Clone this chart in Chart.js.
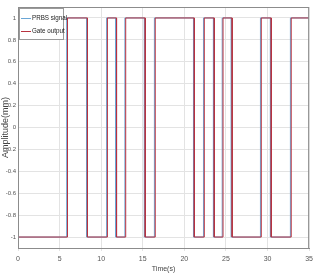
<!DOCTYPE html>
<html>
<head>
<meta charset="utf-8">
<script src="https://cdn.jsdelivr.net/npm/chart.js@4/dist/chart.umd.min.js"></script>
<style>
  html, body { margin: 0; padding: 0; background: #fff; }
  #wrap { width: 317px; height: 273px; }
</style>
</head>
<body>
<div id="wrap"><canvas id="plot" width="317" height="273"></canvas></div>
<script>
// values
const seriesNames = ['PRBS signal', 'Gate output'];
const startLevel = -1;
const endTime = 35;
const prbsSwitches = [5.85, 8.25, 10.65, 11.75, 12.85, 15.2, 16.4, 21.1, 22.3, 23.5, 24.55, 25.65, 29.15, 30.35, 32.75];
const gateSwitches = [5.95, 8.35, 10.75, 11.85, 12.95, 15.3, 16.5, 21.2, 22.4, 23.6, 24.65, 25.75, 29.25, 30.45, 32.85];
const xTicks = [0, 5, 10, 15, 20, 25, 30, 35];
const yTicks = [-1, -0.8, -0.6, -0.4, -0.2, 0, 0.2, 0.4, 0.6, 0.8, 1];

const blue = '#6aa6d6';
const red = '#b8323f';
const font = "'Liberation Sans Narrow', 'Liberation Sans', Arial, sans-serif";

// square wave points from switch times
function steps(times) {
    let lvl = startLevel;
    const pts = [{ x: 0, y: lvl }];
    times.forEach(t => {
        pts.push({ x: t, y: lvl });
        lvl = -lvl;
        pts.push({ x: t, y: lvl });
    });
    pts.push({ x: endTime, y: lvl });
    return pts;
}

// box round the plot and the legend in the top left corner
const boxPlugin = {
    id: 'box',
    afterDatasetsDraw(chart) {
        const { ctx, chartArea: a } = chart;
        ctx.save();
        ctx.strokeStyle = '#8c8c8c';
        ctx.lineWidth = 1;
        ctx.strokeRect(a.left + 0.5, a.top + 0.5, a.right - a.left - 1, a.bottom - a.top);

        const lx = a.left + 1, ly = a.top + 1;
        ctx.fillStyle = '#fff';
        ctx.fillRect(lx, ly, 44, 31);
        ctx.strokeStyle = '#9a9a9a';
        ctx.strokeRect(lx + 0.5, ly + 0.5, 44, 31);
        ctx.textBaseline = 'middle';
        chart.data.datasets.forEach((ds, i) => {
            const y = ly + 10 + i * 13;
            ctx.strokeStyle = ds.borderColor;
            ctx.beginPath();
            ctx.moveTo(lx + 2, y + 0.5);
            ctx.lineTo(lx + 12, y + 0.5);
            ctx.stroke();
            ctx.save();
            ctx.translate(lx + 13, y);
            ctx.scale(0.78, 1);
            ctx.font = '8px ' + font;
            ctx.fillStyle = '#222';
            ctx.fillText(ds.label, 0, 0);
            ctx.restore();
        });
        ctx.restore();
    }
};

new Chart(document.getElementById('plot'), {
    type: 'line',
    data: {
        datasets: [
            { label: seriesNames[0], data: steps(prbsSwitches), borderColor: blue, borderWidth: 1, pointRadius: 0, order: 1 },
            { label: seriesNames[1], data: steps(gateSwitches), borderColor: red, borderWidth: 1, pointRadius: 0, order: 0 }
        ]
    },
    options: {
        responsive: false,
        animation: false,
        layout: { padding: { top: 7, right: 1, left: 0, bottom: 0 } },
        plugins: { legend: { display: false }, tooltip: { enabled: false } },
        scales: {
            x: {
                type: 'linear',
                min: 0,
                max: endTime,
                afterBuildTicks: s => { s.ticks = xTicks.map(v => ({ value: v })); },
                afterFit: s => { s.height = 25; },
                grid: { color: '#e3e3e3', tickLength: 3, drawTicks: true },
                border: { color: '#8c8c8c' },
                ticks: { color: '#555', font: { family: font, size: 7 }, padding: 4, maxRotation: 0 },
                title: { display: true, text: 'Time(s)', color: '#444', font: { family: font, size: 7 }, padding: { top: 0, bottom: 0 } }
            },
            y: {
                min: -1.1,
                max: 1.1,
                afterBuildTicks: s => { s.ticks = yTicks.map(v => ({ value: v })); },
                afterFit: s => { s.width = 18; },
                grid: { color: '#e3e3e3', tickLength: 0 },
                border: { color: '#8c8c8c' },
                ticks: { color: '#555', font: { family: font, size: 6 }, padding: 2, callback: v => String(Math.round(v * 10) / 10) },
                title: { display: true, text: 'Amplitude(mm)', color: '#444', font: { family: font, size: 9 }, padding: 0 }
            }
        }
    },
    plugins: [boxPlugin]
});
</script>
</body>
</html>
